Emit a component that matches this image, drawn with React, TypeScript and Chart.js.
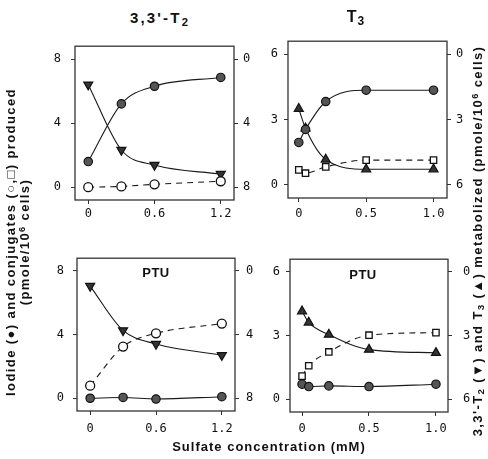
import React, { useEffect, useRef } from "react";
import { Chart, registerables } from "chart.js";
Chart.register(...registerables);

// ---- data ----
const X_T2 = [0, 0.3, 0.6, 1.2];
const X_T3 = [0, 0.05, 0.2, 0.5, 1.0];

const T2_IODIDE = [1.6, 5.2, 6.3, 6.85];
const T2_CONJ = [0.0, 0.05, 0.18, 0.37];
const T2_METAB = [1.6, 5.68, 6.62, 7.18];

const T3_IODIDE = [1.95, 2.55, 3.83, 4.35, 4.35];
const T3_CONJ = [0.69, 0.54, 0.83, 1.14, 1.14];
const T3_METAB = [2.5, 3.4, 4.83, 5.28, 5.28];

const PTU_T2_IODIDE = [0.0, 0.05, -0.05, 0.1];
const PTU_T2_CONJ = [0.79, 3.25, 4.08, 4.69];
const PTU_T2_METAB = [0.95, 3.74, 4.59, 5.29];

const PTU_T3_IODIDE = [0.71, 0.6, 0.63, 0.6, 0.71];
const PTU_T3_CONJ = [1.09, 1.58, 2.23, 3.02, 3.14];
const PTU_T3_METAB = [1.85, 2.38, 2.95, 3.66, 3.81];

const T2_X_TICKS = [0, 0.6, 1.2];
const T2_X_LABELS = ["0", "0.6", "1.2"];
const T3_X_TICKS = [0, 0.5, 1.0];
const T3_X_LABELS = ["0", "0.5", "1.0"];
const T2_Y_TICKS = [0, 4, 8];
const T3_Y_TICKS = [0, 3, 6];

const TICK_FONT = { family: "'DejaVu Sans Mono', monospace", size: 12 };
const INK = "#1a1a1a";

type PanelProps = {
  box: { l: number; t: number; r: number; b: number };
  xs: number[];
  iodide: number[];
  conj: number[];
  metab: number[];
  conjShape: string;
  metabRotation: number;
  xMin: number;
  xMax: number;
  yMin: number;
  yMax: number;
  xTicks: number[];
  xLabels: string[];
  yTicks: number[];
  pad: { left: number; right: number; bottom: number };
};

const LW = 45;
const RW = 40;
const TOPPAD = 12;
const BH = 34;

const boxPlugin = {
  id: "boxFrame",
  afterDraw(chart: any) {
    const a = chart.chartArea;
    const ctx = chart.ctx;
    ctx.save();
    ctx.strokeStyle = "#333";
    ctx.lineWidth = 1.3;
    ctx.strokeRect(a.left, a.top, a.right - a.left, a.bottom - a.top);
    ctx.restore();
  },
};

function Panel(p: PanelProps) {
  const ref = useRef<HTMLCanvasElement | null>(null);
  const w = p.box.r - p.box.l + LW + RW;
  const h = p.box.b - p.box.t + TOPPAD + BH;
  useEffect(() => {
    if (!ref.current) return;
    const pts = (ys: number[]) => p.xs.map((x, i) => ({ x, y: ys[i] }));
    const grid = {
      display: true,
      drawOnChartArea: false,
      drawTicks: true,
      tickLength: 4,
      color: "#333",
      lineWidth: 1,
    };
    const chart = new Chart(ref.current, {
      type: "line",
      data: {
        datasets: [
          {
            data: pts(p.iodide),
            yAxisID: "y",
            borderColor: INK,
            borderWidth: 1.1,
            pointStyle: "circle",
            pointRadius: 4.2,
            pointBackgroundColor: "#555",
            pointBorderColor: "#111",
            pointBorderWidth: 1.2,
            cubicInterpolationMode: "monotone",
          },
          {
            data: pts(p.conj),
            yAxisID: "y",
            borderColor: INK,
            borderWidth: 1.1,
            borderDash: [6, 5],
            pointStyle: p.conjShape,
            pointRadius: 4.5,
            pointBackgroundColor: "#fff",
            pointBorderColor: "#111",
            pointBorderWidth: 1.3,
            cubicInterpolationMode: "monotone",
          },
          {
            data: pts(p.metab),
            yAxisID: "y2",
            borderColor: INK,
            borderWidth: 1.1,
            pointStyle: "triangle",
            pointRotation: p.metabRotation,
            pointRadius: 5.2,
            pointBackgroundColor: "#333",
            pointBorderColor: "#111",
            pointBorderWidth: 1.2,
            cubicInterpolationMode: "monotone",
          },
        ],
      } as any,
      options: {
        responsive: false,
        animation: false,
        devicePixelRatio: 1,
        layout: { padding: { top: TOPPAD, left: 0, right: 0, bottom: 0 } },
        plugins: { legend: { display: false }, tooltip: { enabled: false } },
        scales: {
          x: {
            type: "linear",
            min: p.xMin,
            max: p.xMax,
            afterBuildTicks: (s: any) => {
              s.ticks = p.xTicks.map((v) => ({ value: v }));
            },
            afterFit: (s: any) => {
              s.height = BH;
            },
            ticks: {
              font: TICK_FONT,
              color: "#111",
              padding: p.pad.bottom,
              maxRotation: 0,
              autoSkip: false,
              callback: (_v: any, i: number) => p.xLabels[i],
            },
            grid,
            border: { display: false },
          },
          y: {
            type: "linear",
            position: "left",
            min: p.yMin,
            max: p.yMax,
            afterBuildTicks: (s: any) => {
              s.ticks = p.yTicks.map((v) => ({ value: v }));
            },
            afterFit: (s: any) => {
              s.width = LW;
            },
            ticks: {
              font: TICK_FONT,
              color: "#111",
              padding: p.pad.left,
              callback: (v: any) => String(v),
            },
            grid,
            border: { display: false },
          },
          y2: {
            type: "linear",
            position: "right",
            reverse: true,
            min: p.yMin,
            max: p.yMax,
            afterBuildTicks: (s: any) => {
              s.ticks = p.yTicks.map((v) => ({ value: v }));
            },
            afterFit: (s: any) => {
              s.width = RW;
            },
            ticks: {
              font: TICK_FONT,
              color: "#111",
              padding: p.pad.right,
              callback: (v: any) => String(v),
            },
            grid,
            border: { display: false },
          },
        },
      } as any,
      plugins: [boxPlugin],
    });
    return () => chart.destroy();
  }, []);
  return (
    <canvas
      ref={ref}
      width={w}
      height={h}
      style={{
        position: "absolute",
        left: p.box.l - LW,
        top: p.box.t - TOPPAD,
        width: w,
        height: h,
      }}
    />
  );
}

const sans = "'Liberation Sans', Arial, 'DejaVu Sans', sans-serif";

function Rot({ cx, cy, w, children, size, spacing }: any) {
  const hgt = 40;
  return (
    <div
      style={{
        position: "absolute",
        left: cx - w / 2,
        top: cy - hgt / 2,
        width: w,
        height: hgt,
        display: "flex",
        flexDirection: "column",
        alignItems: "center",
        justifyContent: "center",
        transform: "rotate(-90deg)",
        fontFamily: sans,
        fontWeight: "bold",
        fontSize: size,
        letterSpacing: spacing,
        lineHeight: "14px",
        color: "#111",
        whiteSpace: "nowrap",
      }}
    >
      {children}
    </div>
  );
}

const subStyle: any = { fontSize: "75%", verticalAlign: "-0.25em", lineHeight: 0 };
const supStyle: any = { fontSize: "70%", verticalAlign: "0.45em", lineHeight: 0 };

export default function App() {
  return (
    <div
      style={{
        position: "absolute",
        left: 0,
        top: 0,
        width: 488,
        height: 459,
        background: "#fff",
        overflow: "hidden",
      }}
    >
      <Panel
        box={{ l: 75, t: 41, r: 234, b: 200 }}
        xs={X_T2}
        iodide={T2_IODIDE}
        conj={T2_CONJ}
        metab={T2_METAB}
        conjShape="circle"
        metabRotation={180}
        xMin={-0.12}
        xMax={1.32}
        yMin={-0.8}
        yMax={8.8}
        xTicks={T2_X_TICKS}
        xLabels={T2_X_LABELS}
        yTicks={T2_Y_TICKS}
        pad={{ left: 10, right: 5, bottom: 3 }}
      />
      <Panel
        box={{ l: 288, t: 40, r: 447, b: 198 }}
        xs={X_T3}
        iodide={T3_IODIDE}
        conj={T3_CONJ}
        metab={T3_METAB}
        conjShape="rect"
        metabRotation={0}
        xMin={-0.08}
        xMax={1.1}
        yMin={-0.6}
        yMax={6.6}
        xTicks={T3_X_TICKS}
        xLabels={T3_X_LABELS}
        yTicks={T3_Y_TICKS}
        pad={{ left: 6, right: 5, bottom: 5 }}
      />
      <Panel
        box={{ l: 77, t: 254, r: 235, b: 411 }}
        xs={X_T2}
        iodide={PTU_T2_IODIDE}
        conj={PTU_T2_CONJ}
        metab={PTU_T2_METAB}
        conjShape="circle"
        metabRotation={180}
        xMin={-0.12}
        xMax={1.32}
        yMin={-0.8}
        yMax={8.8}
        xTicks={T2_X_TICKS}
        xLabels={T2_X_LABELS}
        yTicks={T2_Y_TICKS}
        pad={{ left: 9, right: 7, bottom: 7 }}
      />
      <Panel
        box={{ l: 290, t: 253, r: 448, b: 412 }}
        xs={X_T3}
        iodide={PTU_T3_IODIDE}
        conj={PTU_T3_CONJ}
        metab={PTU_T3_METAB}
        conjShape="rect"
        metabRotation={0}
        xMin={-0.09}
        xMax={1.09}
        yMin={-0.6}
        yMax={6.6}
        xTicks={T3_X_TICKS}
        xLabels={T3_X_LABELS}
        yTicks={T3_Y_TICKS}
        pad={{ left: 6, right: 11, bottom: 6 }}
      />

      {/* panel titles */}
      <div style={{ position: "absolute", left: 90, width: 140, top: 9, textAlign: "center", fontFamily: sans, fontSize: 15, fontWeight: "bold", letterSpacing: 2.2, color: "#111" }}>
        3,3'-T<span style={subStyle}>2</span>
      </div>
      <div style={{ position: "absolute", left: 306, width: 100, top: 8, textAlign: "center", fontFamily: sans, fontSize: 16, fontWeight: "bold", letterSpacing: 1, color: "#111" }}>
        T<span style={subStyle}>3</span>
      </div>
      <div style={{ position: "absolute", left: 116, width: 80, top: 265, textAlign: "center", fontFamily: sans, fontSize: 13, fontWeight: "bold", letterSpacing: 0.5, color: "#111" }}>
        PTU
      </div>
      <div style={{ position: "absolute", left: 323, width: 80, top: 267, textAlign: "center", fontFamily: sans, fontSize: 13, fontWeight: "bold", letterSpacing: 0.5, color: "#111" }}>
        PTU
      </div>

      {/* x axis title */}
      <div style={{ position: "absolute", left: 119, width: 300, top: 439, textAlign: "center", fontFamily: sans, fontSize: 13, fontWeight: "bold", letterSpacing: 1, color: "#111" }}>
        Sulfate concentration (mM)
      </div>

      {/* left axis title */}
      <Rot cx={18} cy={242} w={400} size={13} spacing={1.4}>
        <div>Iodide (●) and conjugates (○,□) produced</div>
        <div>
          (pmole/10<span style={supStyle}>6</span> cells)
        </div>
      </Rot>

      {/* right axis title */}
      <Rot cx={478} cy={241} w={440} size={13} spacing={1.4}>
        <div>
          3,3'-T<span style={subStyle}>2</span> (▼) and T<span style={subStyle}>3</span> (▲) metabolized (pmole/10
          <span style={supStyle}>6</span> cells)
        </div>
      </Rot>
    </div>
  );
}
